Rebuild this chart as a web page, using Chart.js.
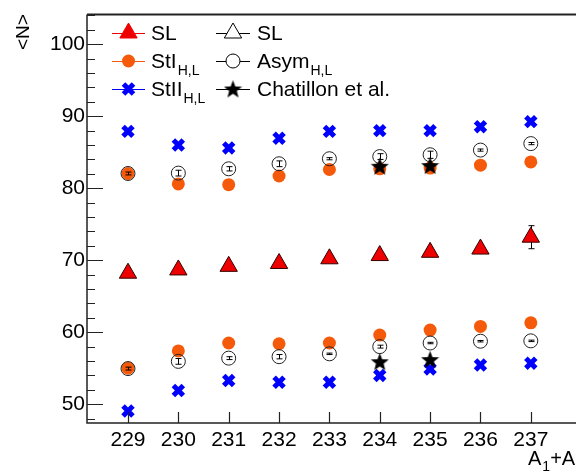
<!DOCTYPE html>
<html>
<head>
<meta charset="utf-8">
<script src="https://cdn.jsdelivr.net/npm/chart.js@4"></script>
<style>
  body { margin: 0; background: #fff; }
  canvas { display: block; }
</style>
</head>
<body>
<canvas id="grafico" width="576" height="474" style="width:576px;height:474px"></canvas>
<script>
// A1+A2 masses
const masses = [229, 230, 231, 232, 233, 234, 235, 236, 237];
const slVals = [68.2, 68.65, 69.15, 69.55, 70.2, 70.65, 71.1, 71.55, 73.2];
const slErr = [0.3, 0.3, 0.3, 0.3, 0.3, 0.3, 0.3, 0.3, 1.6];
const stIHigh = [82.05, 80.6, 80.5, 81.7, 82.6, 82.7, 82.8, 83.2, 83.65];
const stILow = [55.0, 57.4, 58.5, 58.4, 58.5, 59.6, 60.3, 60.8, 61.3];
const asymHigh = [82.05, 82.1, 82.7, 83.4, 84.1, 84.4, 84.65, 85.3, 86.2];
const asymHighErr = [0.2, 0.4, 0.3, 0.4, 0.15, 0.4, 0.5, 0.15, 0.15];
const asymLow = [54.95, 55.95, 56.4, 56.6, 57.0, 58.0, 58.5, 58.75, 58.8];
const asymLowErr = [0.2, 0.4, 0.2, 0.3, 0.1, 0.2, 0.1, 0.1, 0.1];
const stIIHigh = [87.9, 86.0, 85.6, 86.95, 87.9, 88.0, 88.0, 88.55, 89.25];
const stIILow = [49.05, 51.9, 53.3, 53.05, 53.05, 54.0, 54.9, 55.45, 55.7];
const chatMass = [234, 235];
const chatHigh = [83.05, 83.15];
const chatLow = [55.9, 56.2];

const xTicks = masses;
const yTicks = [50, 60, 70, 80, 90, 100];

const RED = '#ee0000';
const ORANGE = '#f5590a';
const BLUE = '#0000ff';
const FONT = '"Liberation Sans", Arial, sans-serif';

function pts(xs, ys) {
  return xs.map((x, i) => ({ x: x, y: ys[i] }));
}

// filled star used for Chatillon et al.
function makeStar(size) {
  const c = document.createElement('canvas');
  c.width = size; c.height = size;
  const g = c.getContext('2d');
  const r = size / 2, ri = r * 0.42;
  g.beginPath();
  for (let i = 0; i < 10; i++) {
    const a = -Math.PI / 2 + i * Math.PI / 5;
    const rr = i % 2 === 0 ? r : ri;
    g.lineTo(r + rr * Math.cos(a), r + rr * Math.sin(a) + 0.8);
  }
  g.closePath();
  g.fillStyle = '#000';
  g.fill();
  return c;
}
const star = makeStar(19);

// SL bars go under the markers, Asym bars on top
const errUnder = [{ xs: masses, ys: slVals, errs: slErr }];
const errOver = [
  { xs: masses, ys: asymHigh, errs: asymHighErr },
  { xs: masses, ys: asymLow, errs: asymLowErr }
];

function drawErrors(chart, sets) {
  const ctx = chart.ctx, xs = chart.scales.x, ys = chart.scales.y;
  ctx.save();
  ctx.strokeStyle = '#000';
  ctx.lineWidth = 1;
  sets.forEach(s => {
    s.xs.forEach((m, i) => {
      const px = Math.round(xs.getPixelForValue(m)) + 0.5;
      const top = ys.getPixelForValue(s.ys[i] + s.errs[i]);
      const bot = ys.getPixelForValue(s.ys[i] - s.errs[i]);
      ctx.beginPath();
      ctx.moveTo(px, top); ctx.lineTo(px, bot);
      ctx.moveTo(px - 3, top); ctx.lineTo(px + 3, top);
      ctx.moveTo(px - 3, bot); ctx.lineTo(px + 3, bot);
      ctx.stroke();
    });
  });
  ctx.restore();
}

function drawSub(ctx, x, y, main, sub, size) {
  ctx.font = size + 'px ' + FONT;
  ctx.fillText(main, x, y);
  const w = ctx.measureText(main).width;
  ctx.font = Math.round(size * 0.68) + 'px ' + FONT;
  ctx.fillText(sub, x + w + 1, y + size * 0.32);
  return x + w + 1 + ctx.measureText(sub).width;
}

function legendMarker(ctx, kind, x, y) {
  ctx.save();
  ctx.lineWidth = 1;
  if (kind === 'triF' || kind === 'triO') {
    const r = 10;
    ctx.beginPath();
    for (let i = 0; i < 3; i++) {
      const a = i * 2 * Math.PI / 3;
      ctx.lineTo(x + Math.sin(a) * r, y - Math.cos(a) * r);
    }
    ctx.closePath();
    if (kind === 'triF') { ctx.fillStyle = RED; ctx.fill(); ctx.strokeStyle = RED; }
    else { ctx.fillStyle = '#fff'; ctx.fill(); ctx.strokeStyle = '#000'; }
    ctx.stroke();
  } else if (kind === 'dot') {
    ctx.beginPath(); ctx.arc(x, y, 6.5, 0, 2 * Math.PI);
    ctx.fillStyle = ORANGE; ctx.fill();
  } else if (kind === 'ring') {
    ctx.beginPath(); ctx.arc(x, y, 7, 0, 2 * Math.PI);
    ctx.fillStyle = '#fff'; ctx.fill();
    ctx.strokeStyle = '#000'; ctx.stroke();
  } else if (kind === 'x') {
    const d = 5;
    ctx.strokeStyle = BLUE; ctx.lineWidth = 5;
    ctx.beginPath();
    ctx.moveTo(x - d, y - d); ctx.lineTo(x + d, y + d);
    ctx.moveTo(x - d, y + d); ctx.lineTo(x + d, y - d);
    ctx.stroke();
  } else if (kind === 'star') {
    ctx.drawImage(star, x - star.width / 2, y - star.height / 2);
  }
  ctx.restore();
}

const decor = {
  id: 'decor',
  beforeDatasetsDraw(chart) {
    drawErrors(chart, errUnder);
  },
  afterDatasetsDraw(chart) {
    drawErrors(chart, errOver);
  },
  afterDraw(chart) {
    const ctx = chart.ctx, a = chart.chartArea;
    const xs = chart.scales.x, ys = chart.scales.y;
    ctx.save();
    // frame
    ctx.strokeStyle = '#222';
    ctx.lineWidth = 1.5;
    ctx.beginPath();
    ctx.moveTo(a.left, a.top); ctx.lineTo(a.left, a.bottom); ctx.lineTo(chart.width, a.bottom);
    ctx.stroke();
    ctx.lineWidth = 2;
    ctx.beginPath();
    ctx.moveTo(a.left, a.top); ctx.lineTo(chart.width, a.top);
    ctx.stroke();
    // ticks, drawn inside
    ctx.lineWidth = 1.2;
    ctx.beginPath();
    for (let v = 48; v <= 104; v += 2) {
      const py = Math.round(ys.getPixelForValue(v)) + 0.5;
      const len = v % 10 === 0 ? 16 : 8;
      ctx.moveTo(a.left, py); ctx.lineTo(a.left + len, py);
    }
    xTicks.forEach(m => {
      const px = Math.round(xs.getPixelForValue(m)) + 0.5;
      ctx.moveTo(px, a.bottom); ctx.lineTo(px, a.bottom - 11);
    });
    ctx.stroke();

    // axis titles
    ctx.fillStyle = '#000';
    ctx.textBaseline = 'alphabetic';
    ctx.textAlign = 'left';
    ctx.save();
    ctx.translate(29, 50);
    ctx.rotate(-Math.PI / 2);
    ctx.font = '19px ' + FONT;
    ctx.fillText('<N>', 0, 0);
    ctx.restore();
    let tx = drawSub(ctx, 528, 465, 'A', '1', 20);
    drawSub(ctx, tx, 465, '+A', '2', 20);

    // legend
    const rows = [33, 61, 89];
    const c1 = [112, 145, 151], c2 = [216, 250, 257];
    const items = [
      [c1, 0, RED, 'triF', 'SL', ''],
      [c1, 1, ORANGE, 'dot', 'StI', 'H,L'],
      [c1, 2, BLUE, 'x', 'StII', 'H,L'],
      [c2, 0, '#000', 'triO', 'SL', ''],
      [c2, 1, '#000', 'ring', 'Asym', 'H,L'],
      [c2, 2, '#000', 'star', 'Chatillon et al.', '']
    ];
    items.forEach(it => {
      const col = it[0], y = rows[it[1]];
      ctx.strokeStyle = it[2];
      ctx.lineWidth = 1;
      ctx.beginPath();
      ctx.moveTo(col[0], y + 0.5); ctx.lineTo(col[1], y + 0.5);
      ctx.stroke();
      legendMarker(ctx, it[3], (col[0] + col[1]) / 2, y);
      ctx.fillStyle = '#000';
      if (it[5]) drawSub(ctx, col[2], y + 7, it[4], it[5], 21);
      else { ctx.font = '21px ' + FONT; ctx.fillText(it[4], col[2], y + 7); }
    });
    ctx.restore();
  }
};

const grafx = document.getElementById('grafico').getContext('2d');
const grafico = new Chart(grafx, {
  type: 'scatter',
  data: {
    datasets: [
      { label: 'Chatillon et al.', data: pts(chatMass, chatHigh), pointStyle: star, order: 0 },
      { label: 'Chatillon et al. low', data: pts(chatMass, chatLow), pointStyle: star, order: 0 },
      { label: 'SL open', data: pts(masses, slVals), pointStyle: 'triangle', pointRadius: 10,
        backgroundColor: 'rgba(0,0,0,0)', borderColor: '#300', borderWidth: 1, order: 1 },
      { label: 'Asym high', data: pts(masses, asymHigh), pointStyle: 'circle', pointRadius: 7,
        backgroundColor: 'rgba(0,0,0,0)', borderColor: '#222', borderWidth: 1, order: 2 },
      { label: 'Asym low', data: pts(masses, asymLow), pointStyle: 'circle', pointRadius: 7,
        backgroundColor: 'rgba(0,0,0,0)', borderColor: '#222', borderWidth: 1, order: 2 },
      { label: 'SL', data: pts(masses, slVals), pointStyle: 'triangle', pointRadius: 10,
        backgroundColor: RED, borderColor: RED, borderWidth: 0, order: 3 },
      { label: 'StI high', data: pts(masses, stIHigh), pointStyle: 'circle', pointRadius: 6.5,
        backgroundColor: ORANGE, borderWidth: 0, order: 4 },
      { label: 'StI low', data: pts(masses, stILow), pointStyle: 'circle', pointRadius: 6.5,
        backgroundColor: ORANGE, borderWidth: 0, order: 4 },
      { label: 'StII high', data: pts(masses, stIIHigh), pointStyle: 'crossRot', pointRadius: 7,
        borderColor: BLUE, borderWidth: 5, order: 5 },
      { label: 'StII low', data: pts(masses, stIILow), pointStyle: 'crossRot', pointRadius: 7,
        borderColor: BLUE, borderWidth: 5, order: 5 }
    ]
  },
  options: {
    responsive: false,
    animation: false,
    layout: { padding: { top: 10, left: 0, right: 0, bottom: 0 } },
    plugins: { legend: { display: false }, tooltip: { enabled: false } },
    scales: {
      x: {
        type: 'linear',
        min: 228.186,
        max: 237.659,
        afterFit: s => { s.height = 51; },
        afterBuildTicks: s => { s.ticks = xTicks.map(v => ({ value: v })); },
        grid: { display: false, drawTicks: false },
        border: { display: false },
        ticks: {
          color: '#000', padding: 5, maxRotation: 0, autoSkip: false,
          font: { family: FONT, size: 21 }
        }
      },
      y: {
        min: 47.39,
        max: 104.12,
        afterFit: s => { s.width = 87; },
        afterBuildTicks: s => { s.ticks = yTicks.map(v => ({ value: v })); },
        grid: { display: false, drawTicks: false },
        border: { display: false },
        ticks: {
          color: '#000', padding: 2,
          font: { family: FONT, size: 21 }
        }
      }
    }
  },
  plugins: [decor]
});
</script>
</body>
</html>
